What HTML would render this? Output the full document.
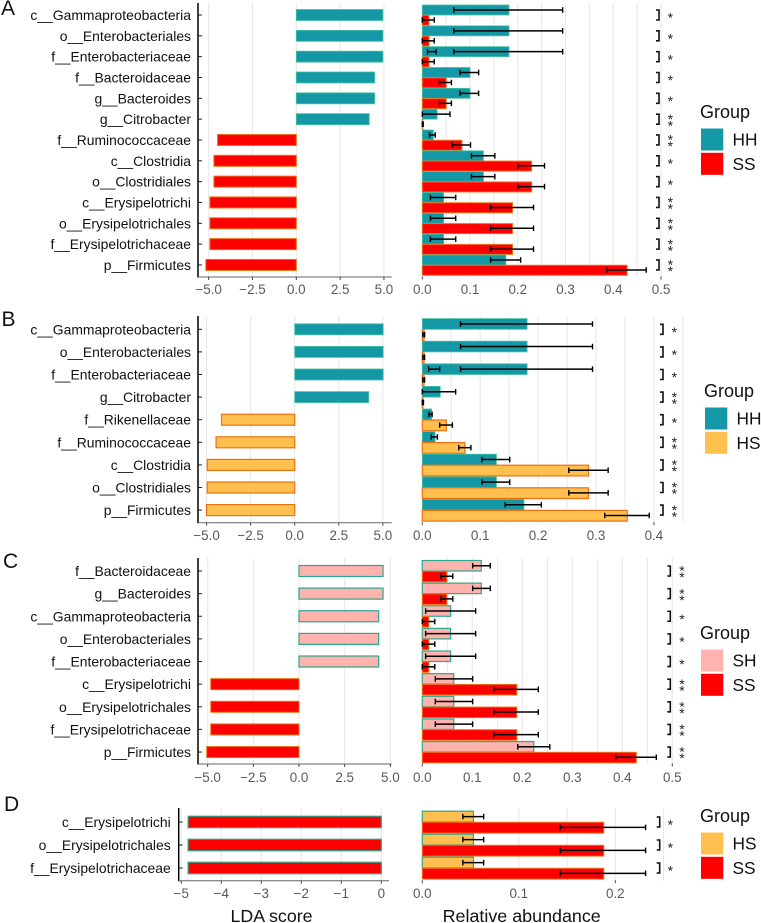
<!DOCTYPE html>
<html lang="en">
<head>
<meta charset="utf-8">
<title>LDA score and relative abundance</title>
<style>
html,body{margin:0;padding:0;background:#fff;}
#figure{display:block;width:761px;height:923px;font-family:"Liberation Sans",Arial,sans-serif;filter:blur(0.3px);}
</style>
</head>
<body>
<svg id="figure" width="761" height="923" viewBox="0 0 761 923" xmlns="http://www.w3.org/2000/svg"></svg>
<script>
/* ---------- Panel A data ---------- */
const panelACategories = ['c__Gammaproteobacteria','o__Enterobacteriales','f__Enterobacteriaceae','f__Bacteroidaceae','g__Bacteroides','g__Citrobacter','f__Ruminococcaceae','c__Clostridia','o__Clostridiales','c__Erysipelotrichi','o__Erysipelotrichales','f__Erysipelotrichaceae','p__Firmicutes'];
const panelALda = [4.94,4.94,4.94,4.47,4.47,4.16,-4.49,-4.7,-4.7,-4.93,-4.93,-4.93,-5.16];
const panelAGroups = ['HH','SS'];
const panelAMean1 = [.1816,.1816,.1816,.0999,.0999,.031,.023,.128,.128,.0447,.0447,.0447,.175];
const panelALow1  = [.066,.066,.066,.079,.079,0,.015,.103,.103,.017,.017,.017,.143];
const panelAHigh1 = [.294,.294,.294,.118,.118,.058,.027,.152,.152,.07,.07,.07,.206];
const panelAMean2 = [.014,.014,.014,.05,.05,.001,.083,.229,.229,.189,.189,.189,.429];
const panelALow2  = [0,0,0,.036,.036,0,.063,.2,.2,.143,.143,.143,.387];
const panelAHigh2 = [.025,.025,.025,.061,.061,.002,.101,.256,.256,.233,.233,.233,.469];
const panelAExtra = [{row:2,low:.011,high:.029}];
const panelAStars = [1,1,1,1,1,2,2,1,1,2,2,2,2];
const panelALdaTicks = [-5,-2.5,0,2.5,5];
const panelAAbundanceTicks = [0,.1,.2,.3,.4,.5];

/* ---------- Panel B data ---------- */
const panelBCategories = ['c__Gammaproteobacteria','o__Enterobacteriales','f__Enterobacteriaceae','g__Citrobacter','f__Rikenellaceae','f__Ruminococcaceae','c__Clostridia','o__Clostridiales','p__Firmicutes'];
const panelBLda = [5.02,5.02,5.02,4.2,-4.15,-4.46,-4.96,-4.96,-5.0];
const panelBGroups = ['HH','HS'];
const panelBMean1 = [.181,.181,.181,.031,.016,.022,.128,.128,.1756];
const panelBLow1  = [.066,.066,.066,0,.0115,.0155,.103,.103,.143];
const panelBHigh1 = [.294,.294,.294,.0576,.017,.026,.151,.151,.2055];
const panelBMean2 = [.003,.003,.003,.001,.0415,.0737,.287,.287,.354];
const panelBLow2  = [.001,.001,.001,0,.03,.063,.253,.253,.315];
const panelBHigh2 = [.004,.004,.004,.002,.052,.084,.321,.321,.392];
const panelBExtra = [{row:2,low:.011,high:.03}];
const panelBStars = [1,1,1,2,1,2,2,2,2];
const panelBLdaTicks = [-5,-2.5,0,2.5,5];
const panelBAbundanceTicks = [0,.1,.2,.3,.4];

/* ---------- Panel C data ---------- */
const panelCCategories = ['f__Bacteroidaceae','g__Bacteroides','c__Gammaproteobacteria','o__Enterobacteriales','f__Enterobacteriaceae','c__Erysipelotrichi','o__Erysipelotrichales','f__Erysipelotrichaceae','p__Firmicutes'];
const panelCLda = [4.6,4.6,4.36,4.36,4.36,-4.83,-4.83,-4.83,-5.05];
const panelCGroups = ['SH','SS'];
const panelCMean1 = [.118,.118,.0567,.0567,.0567,.063,.063,.063,.223];
const panelCLow1  = [.1007,.1007,.0067,.0067,.0067,.026,.026,.026,.191];
const panelCHigh1 = [.136,.136,.1067,.1067,.1067,.1007,.1007,.1007,.255];
const panelCMean2 = [.049,.049,.013,.013,.013,.189,.189,.189,.428];
const panelCLow2  = [.037,.037,0,0,0,.143,.143,.143,.387];
const panelCHigh2 = [.061,.061,.025,.025,.025,.232,.232,.232,.468];
const panelCExtra = [];
const panelCStars = [2,2,1,1,1,2,2,2,2];
const panelCLdaTicks = [-5,-2.5,0,2.5,5];
const panelCAbundanceTicks = [0,.1,.2,.3,.4,.5];

/* ---------- Panel D data ---------- */
const panelDCategories = ['c__Erysipelotrichi','o__Erysipelotrichales','f__Erysipelotrichaceae'];
const panelDLda = [-4.83,-4.83,-4.83];
const panelDGroups = ['HS','SS'];
const panelDMean1 = [.053,.053,.053];
const panelDLow1  = [.042,.042,.042];
const panelDHigh1 = [.0636,.0636,.0636];
const panelDMean2 = [.188,.188,.188];
const panelDLow2  = [.143,.143,.143];
const panelDHigh2 = [.2314,.2314,.2314];
const panelDExtra = [];
const panelDStars = [1,1,1];
const panelDLdaTicks = [-5,-4,-3,-2,-1,0];
const panelDAbundanceTicks = [0,.1,.2];

/* ---------- Colours ---------- */
const TEAL='#1598a6', RED='#ff0000', GOLD='#ffc04f', PINK='#ffb3ae';
const LIGHTGREEN='#45c3a0', ORANGE='#ee7010', GREEN='#2aa78c';
const SVGNS='http://www.w3.org/2000/svg';
const root=document.getElementById('figure');

function add(parent,tag,attrs){
  const el=document.createElementNS(SVGNS,tag);
  for(const k in attrs){el.setAttribute(k,attrs[k]);}
  parent.appendChild(el);
  return el;
}
function group(parent,name){
  const g=add(parent,'g',{});
  
  
  return g;
}
function fmt(v,d){return v.toFixed(d).replace('-','\u2212');}

function drawPanel(p){
  const panel=group(root,'panel-'+p.id);
  const letter=add(panel,'text',{x:p.letterX,y:p.letterY,'font-size':21,fill:'#111'});
  letter.textContent=p.id.toUpperCase();
  
  

  const rowY=i=>p.rowFirst+i*p.rowStep;

  /* ----- LDA chart ----- */
  const ldaX=v=>p.ldaZero+v*p.ldaScale;
  const lda=group(panel,'lda-chart');
  p.ldaTicks.forEach(t=>{
    const grid=add(lda,'line',{x1:ldaX(t),x2:ldaX(t),y1:p.top,y2:p.bottom,stroke:'#e9e9e9','stroke-width':1.1});
    
    
  });
  p.lda.forEach((v,i)=>{
    const x0=ldaX(Math.min(v,0)), x1=ldaX(Math.max(v,0));
    const st=v>=0?p.posStyle:p.negStyle;
    const bar=add(lda,'rect',{x:x0,y:rowY(i)-p.barH/2,width:x1-x0,height:p.barH,fill:st.fill,stroke:st.stroke,'stroke-width':st.sw});
    
    
    const tick=add(lda,'line',{x1:p.axisX,x2:p.axisX+4,y1:rowY(i),y2:rowY(i),stroke:'#222','stroke-width':1});
    
    
    const label=add(lda,'text',{x:p.labelX,y:rowY(i)+5,'font-size':13.9,'text-anchor':'end',fill:'#111'});
    label.textContent=p.categories[i];
    
    
  });
  const yAxis=add(lda,'line',{x1:p.axisX,x2:p.axisX,y1:p.top,y2:p.bottom+0.5,stroke:'#000','stroke-width':1.5});
  
  
  const xAxis=add(lda,'line',{x1:p.axisX,x2:p.axisEnd,y1:p.bottom,y2:p.bottom,stroke:'#666','stroke-width':1});
  
  
  p.ldaTicks.forEach(t=>{
    const tick=add(lda,'line',{x1:ldaX(t),x2:ldaX(t),y1:p.bottom,y2:p.bottom+3,stroke:'#444','stroke-width':1});
    
    
    const label=add(lda,'text',{x:ldaX(t),y:p.tickLabelY,'font-size':13.4,'text-anchor':'middle',fill:'#595959'});
    label.textContent=fmt(t,p.ldaDecimals);
    
    
  });

  /* ----- Abundance chart ----- */
  const abX=v=>p.abZero+v*p.abScale;
  const ab=group(panel,'abundance-chart');
  for(let i=1;i*0.05<=p.gridMax+1e-9;i++){
    const gx=abX(i*0.05);
    const grid=add(ab,'line',{x1:gx,x2:gx,y1:p.top,y2:p.bottom,stroke:'#e9e9e9','stroke-width':1.1});
    
    
  }
  const errorBar=(v1,v2,y)=>{
    const eb=group(ab,'error-bar');
    add(eb,'line',{x1:abX(v1),x2:abX(v2),y1:y,y2:y,stroke:'#000','stroke-width':1.5});
    add(eb,'line',{x1:abX(v1),x2:abX(v1),y1:y-2.8,y2:y+2.8,stroke:'#000','stroke-width':1.4});
    add(eb,'line',{x1:abX(v2),x2:abX(v2),y1:y-2.8,y2:y+2.8,stroke:'#000','stroke-width':1.4});
  };
  p.mean1.forEach((m,i)=>{
    const c=rowY(i), h=p.band;
    const b1=add(ab,'rect',{x:abX(0),y:c-h,width:abX(m)-abX(0),height:h,fill:p.style1.fill,stroke:p.style1.stroke,'stroke-width':p.style1.sw});
    
    
    const b2=add(ab,'rect',{x:abX(0),y:c+0.3,width:abX(p.mean2[i])-abX(0),height:h,fill:p.style2.fill,stroke:p.style2.stroke,'stroke-width':p.style2.sw});
    
    
  });
  p.mean1.forEach((m,i)=>{
    const c=rowY(i);
    errorBar(p.low1[i],p.high1[i],c-p.band/2);
    errorBar(p.low2[i],p.high2[i],c+p.band/2);
    const bx=p.bracketX, by=c;
    const bracket=add(ab,'path',{d:'M'+bx+' '+(by-5)+'H'+(bx+3)+'V'+(by+5)+'H'+bx,fill:'none',stroke:'#111','stroke-width':1.6});
    
    
    const count=p.stars[i];
    for(let s=0;s<count;s++){
      const sy=count===1?c:c-3+s*6.5;
      const star=add(ab,'text',{x:p.starX,y:sy+7.7,'font-size':14,'text-anchor':'middle',fill:'#222'});
      star.textContent='*';
      
      
    }
  });
  p.extra.forEach(e=>{errorBar(e.low,e.high,rowY(e.row)-p.band/2);});
  [p.abTicks[0],p.abTicks[p.abTicks.length-1]].forEach(t=>{
    const tick=add(ab,'line',{x1:abX(t),x2:abX(t),y1:p.bottom-0.5,y2:p.bottom+2.5,stroke:'#444','stroke-width':1});
    
    
  });
  p.abTicks.forEach(t=>{
    const label=add(ab,'text',{x:abX(t),y:p.tickLabelY,'font-size':13.4,'text-anchor':'middle',fill:'#595959'});
    label.textContent=fmt(t,1);
    
    
  });

  /* ----- Legend ----- */
  const lg=group(panel,'legend');
  const title=add(lg,'text',{x:p.legendX-1,y:p.legendY,'font-size':18,fill:'#111'});
  title.textContent='Group';
  
  
  p.groups.forEach((name,i)=>{
    const sy=p.legendY+10.5+i*24.3;
    const swatch=add(lg,'rect',{x:p.legendX,y:sy,width:22.3,height:22,fill:i===0?p.style1.fill:p.style2.fill});
    
    
    const text=add(lg,'text',{x:p.legendX+31.5,y:sy+17,'font-size':17.3,fill:'#111'});
    text.textContent=name;
    
    
  });
}

const tealStyle={fill:TEAL,stroke:LIGHTGREEN,sw:.8};
const redOrange={fill:RED,stroke:ORANGE,sw:1};
const goldOrange={fill:GOLD,stroke:ORANGE,sw:1.2};
const pinkGreen={fill:PINK,stroke:GREEN,sw:1.2};
const redGreen={fill:RED,stroke:GREEN,sw:1.2};
const goldGreen={fill:GOLD,stroke:GREEN,sw:1.2};

drawPanel({id:'a',letterX:1,letterY:15,top:3,bottom:277,axisX:198,axisEnd:391.7,labelX:191,
  rowFirst:15,rowStep:20.83,barH:11,ldaZero:296.3,ldaScale:17.53,ldaDecimals:1,tickLabelY:294,
  abZero:422.3,abScale:477.4,gridMax:.5,band:10,bracketX:656,starX:670.3,
  legendX:701,legendY:118,
  categories:panelACategories,lda:panelALda,groups:panelAGroups,mean1:panelAMean1,low1:panelALow1,high1:panelAHigh1,
  mean2:panelAMean2,low2:panelALow2,high2:panelAHigh2,extra:panelAExtra,stars:panelAStars,
  ldaTicks:panelALdaTicks,abTicks:panelAAbundanceTicks,posStyle:tealStyle,negStyle:redOrange,style1:tealStyle,style2:redOrange});

drawPanel({id:'b',letterX:1.5,letterY:326,top:316,bottom:522.7,axisX:198,axisEnd:391.7,labelX:191,
  rowFirst:329.3,rowStep:22.6,barH:11,ldaZero:294.7,ldaScale:17.63,ldaDecimals:1,tickLabelY:540,
  abZero:422.3,abScale:579,gridMax:.45,band:10.7,bracketX:660,starX:674.3,
  legendX:705,legendY:397,
  categories:panelBCategories,lda:panelBLda,groups:panelBGroups,mean1:panelBMean1,low1:panelBLow1,high1:panelBHigh1,
  mean2:panelBMean2,low2:panelBLow2,high2:panelBHigh2,extra:panelBExtra,stars:panelBStars,
  ldaTicks:panelBLdaTicks,abTicks:panelBAbundanceTicks,posStyle:tealStyle,negStyle:goldOrange,style1:tealStyle,style2:goldOrange});

drawPanel({id:'c',letterX:3,letterY:568,top:558,bottom:764,axisX:198,axisEnd:391.7,labelX:191,
  rowFirst:571,rowStep:22.63,barH:11,ldaZero:299,ldaScale:18.27,ldaDecimals:1,tickLabelY:782,
  abZero:422.3,abScale:500,gridMax:.5,band:10.5,bracketX:667.3,starX:682,
  legendX:701,legendY:639,
  categories:panelCCategories,lda:panelCLda,groups:panelCGroups,mean1:panelCMean1,low1:panelCLow1,high1:panelCHigh1,
  mean2:panelCMean2,low2:panelCLow2,high2:panelCHigh2,extra:panelCExtra,stars:panelCStars,
  ldaTicks:panelCLdaTicks,abTicks:panelCAbundanceTicks,posStyle:pinkGreen,negStyle:redOrange,style1:pinkGreen,style2:redOrange});

drawPanel({id:'d',letterX:4,letterY:811,top:808,bottom:880.7,axisX:178.7,axisEnd:389,labelX:170.7,
  rowFirst:822,rowStep:23,barH:11.5,ldaZero:381.3,ldaScale:40,ldaDecimals:0,tickLabelY:898,
  abZero:422.3,abScale:965,gridMax:.25,band:10.8,bracketX:656.7,starX:670.3,
  legendX:701,legendY:822,
  categories:panelDCategories,lda:panelDLda,groups:panelDGroups,mean1:panelDMean1,low1:panelDLow1,high1:panelDHigh1,
  mean2:panelDMean2,low2:panelDLow2,high2:panelDHigh2,extra:panelDExtra,stars:panelDStars,
  ldaTicks:panelDLdaTicks,abTicks:panelDAbundanceTicks,posStyle:redGreen,negStyle:redGreen,style1:goldGreen,style2:redOrange});

const ldaTitle=add(root,'text',{x:271.5,y:922,'font-size':17.8,'text-anchor':'middle',fill:'#111'});
ldaTitle.textContent='LDA score';


const abTitle=add(root,'text',{x:521.7,y:922,'font-size':17.9,'text-anchor':'middle',fill:'#111'});
abTitle.textContent='Relative abundance';


</script>
</body>
</html>
